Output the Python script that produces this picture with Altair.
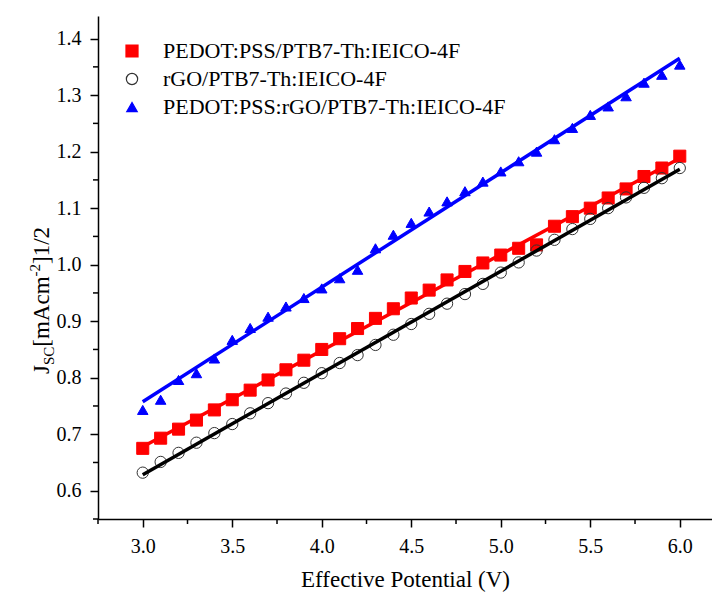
import altair as alt
import pandas as pd

# ---------------- data ----------------
voltage = [3.0, 3.1, 3.2, 3.3, 3.4, 3.5, 3.6, 3.7, 3.8, 3.9, 4.0,
           4.1, 4.2, 4.3, 4.4, 4.5, 4.6, 4.7, 4.8, 4.9, 5.0,
           5.1, 5.2, 5.3, 5.4, 5.5, 5.6, 5.7, 5.8, 5.9, 6.0]

jsc_pedot = [0.675, 0.693, 0.709, 0.725, 0.743, 0.761, 0.778, 0.796, 0.814, 0.831, 0.850,
             0.869, 0.887, 0.905, 0.922, 0.941, 0.955, 0.973, 0.988, 1.003, 1.017,
             1.029, 1.035, 1.068, 1.085, 1.100, 1.118, 1.134, 1.156, 1.171, 1.192]
jsc_rgo = [0.632, 0.651, 0.667, 0.685, 0.702, 0.718, 0.737, 0.755, 0.772, 0.791, 0.808,
           0.826, 0.840, 0.858, 0.876, 0.895, 0.913, 0.931, 0.948, 0.966, 0.986,
           1.004, 1.025, 1.044, 1.063, 1.081, 1.100, 1.119, 1.136, 1.153, 1.171]
jsc_hybrid = [0.743, 0.761, 0.796, 0.808, 0.834, 0.867, 0.888, 0.908, 0.926, 0.941, 0.958,
              0.976, 0.991, 1.029, 1.053, 1.074, 1.094, 1.112, 1.130, 1.147, 1.165,
              1.183, 1.200, 1.222, 1.242, 1.265, 1.280, 1.298, 1.322, 1.336, 1.354]

series_names = ["PEDOT:PSS/PTB7-Th:IEICO-4F",
                "rGO/PTB7-Th:IEICO-4F",
                "PEDOT:PSS:rGO/PTB7-Th:IEICO-4F"]

x_ticks = [3.0, 3.5, 4.0, 4.5, 5.0, 5.5, 6.0]
x_minor = [2.75, 3.25, 3.75, 4.25, 4.75, 5.25, 5.75]
y_ticks = [0.6, 0.7, 0.8, 0.9, 1.0, 1.1, 1.2, 1.3, 1.4]
y_minor = [0.55, 0.65, 0.75, 0.85, 0.95, 1.05, 1.15, 1.25, 1.35]

x_title = "Effective Potential (V)"
y_title_parts = ["J", "SC", "[mAcm", "-2", "]1/2"]

# ---------------- styles ----------------
FONT = "Liberation Serif"
marker_shapes = ["square", "circle", "triangle-up"]
marker_fills = ["#ff0000", "transparent", "#0000ff"]
marker_strokes = ["#ff0000", "#333333", "#0000ff"]
marker_sizes = [145, 110, 175]
line_colors = ["#ff0000", "#000000", "#0000ff"]

W, H = 614, 503

rows = []
for name, vals in zip(series_names, [jsc_pedot, jsc_rgo, jsc_hybrid]):
    for xv, yv in zip(voltage, vals):
        rows.append({"series": name, "x": xv, "y": yv})
df = pd.DataFrame(rows)

axis_style = dict(labelFont=FONT, labelFontSize=20, labelColor="black",
                  domainColor="black", domainWidth=1.5, tickColor="black",
                  tickWidth=1.5, tickSize=8, grid=False, titleFont=FONT,
                  titleFontSize=23, titleFontWeight="normal", titleColor="black")

xscale = alt.Scale(domain=[2.75, 6.18], nice=False, zero=False)
yscale = alt.Scale(domain=[0.55, 1.44], nice=False, zero=False)
xaxis = alt.Axis(values=x_ticks, format=".1f", title=x_title,
                 labelPadding=9, titlePadding=12, **axis_style)
yaxis = alt.Axis(values=y_ticks, format=".1f", title=None, labelPadding=9,
                 **axis_style)

X = alt.X("x:Q", scale=xscale, axis=xaxis)
Y = alt.Y("y:Q", scale=yscale, axis=yaxis)

leg = alt.Legend(title=None, orient="none", legendX=23, legendY=24,
                 labelFont=FONT, labelFontSize=22, labelColor="black",
                 labelOffset=20, rowPadding=6, symbolStrokeWidth=1.2,
                 padding=0, labelLimit=600)

points = alt.Chart(df).mark_point(opacity=1, fillOpacity=1, strokeWidth=1).encode(
    x=X, y=Y,
    shape=alt.Shape("series:N", scale=alt.Scale(domain=series_names, range=marker_shapes), legend=leg),
    fill=alt.Fill("series:N", scale=alt.Scale(domain=series_names, range=marker_fills), legend=leg),
    stroke=alt.Stroke("series:N", scale=alt.Scale(domain=series_names, range=marker_strokes), legend=leg),
    size=alt.Size("series:N", scale=alt.Scale(domain=series_names, range=marker_sizes), legend=leg),
)

fit_layers = []
for name, col in zip(series_names, line_colors):
    fit_layers.append(
        alt.Chart(df).transform_filter(alt.datum.series == name)
        .transform_regression("x", "y")
        .mark_line(color=col, strokeWidth=3.5)
        .encode(x=X, y=Y)
    )

xminor = alt.Chart(pd.DataFrame({"x": x_minor})).mark_rule(color="black", strokeWidth=1.5).encode(
    x=X, y=alt.value(H), y2=alt.value(H + 5))
yminor = alt.Chart(pd.DataFrame({"y": y_minor})).mark_rule(color="black", strokeWidth=1.5).encode(
    y=Y, x=alt.value(0), x2=alt.value(-5))

# y-axis title built from pieces (subscript / superscript)
main_fs, small_fs = 23, 15
widths = {"J": 0.389 * main_fs, "SC": 1.223 * small_fs, "[mAcm": 3.055 * main_fs,
          "-2": 0.833 * small_fs, "]1/2": 1.611 * main_fs}
baseline_x = -49
offsets = {"J": 0, "SC": 5, "[mAcm": 0, "-2": -9, "]1/2": 0}
sizes = {"J": main_fs, "SC": small_fs, "[mAcm": main_fs, "-2": small_fs, "]1/2": main_fs}
title_layers = []
ypos = 358
for part in y_title_parts:
    title_layers.append(
        alt.Chart(pd.DataFrame({"k": [0]})).mark_text(
            angle=270, align="left", baseline="alphabetic", font=FONT,
            fontSize=sizes[part], color="black"
        ).encode(x=alt.value(baseline_x + offsets[part]), y=alt.value(ypos),
                 text=alt.value(part))
    )
    ypos -= widths[part]

chart = alt.layer(points, *fit_layers, xminor, yminor, *title_layers).properties(
    width=W, height=H,
    padding={"left": 90, "top": 8, "right": 0, "bottom": 73},
    autosize=alt.AutoSizeParams(type="none"),
).configure_view(stroke=None)

chart.save("out.html", embed_options={"renderer": "svg", "actions": False})
